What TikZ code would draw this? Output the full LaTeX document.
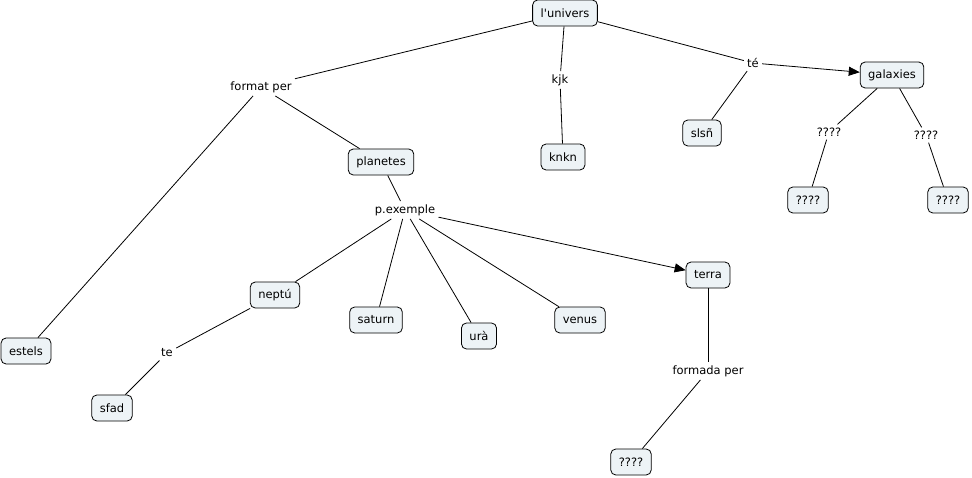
\documentclass[tikz,border=0pt]{standalone}
\usepackage{fontspec}
\setmainfont{DejaVu Sans}
\usepackage{xcolor}
\usetikzlibrary{arrows.meta}
\definecolor{cfill}{HTML}{EDF3F6}

\begin{document}
\begin{tikzpicture}[x=1pt,y=-1pt,
    font=\fontsize{11.5}{13}\selectfont,
    concept/.style={draw, rounded corners=5pt, fill=cfill, inner xsep=8pt,
        minimum height=26pt},
    linkw/.style={inner sep=3pt},
    every path/.style={line width=0.8pt},
    arr/.style={-{Triangle[length=11pt,width=9pt]}}]
\useasboundingbox (0,0) rectangle (972,477);

\node[concept] (univers) at (565,13) {l\textquotesingle univers};
\node[concept] (galaxies) at (892,75) {galaxies};
\node[concept] (slsn) at (702,133) {slsñ};
\node[concept] (knkn) at (563,157) {knkn};
\node[concept] (planetes) at (381,162) {planetes};
\node[concept] (galA) at (808,200) {????};
\node[concept] (galB) at (948,200) {????};
\node[concept] (terra) at (708,275) {terra};
\node[concept] (neptu) at (275,295) {neptú};
\node[concept] (saturn) at (376,320) {saturn};
\node[concept] (venus) at (580,320) {venus};
\node[concept] (ura) at (479,336) {urà};
\node[concept] (estels) at (26,351) {estels};
\node[concept] (sfad) at (112,408) {sfad};
\node[concept] (terraA) at (631,462) {????};

\node[linkw] (formatper) at (261,87) {format per};
\node[linkw] (kjk) at (560,80) {kjk};
\node[linkw] (te) at (753,63) {té};
\node[linkw] (qA) at (829,132) {????};
\node[linkw] (qB) at (926,135) {????};
\node[linkw] (pexemple) at (405,210) {p.exemple};
\node[linkw] (teN) at (167,353) {te};
\node[linkw] (formada) at (708,371) {formada per};

\draw (univers) -- (formatper);
\draw (formatper) -- (planetes);
\draw (formatper) -- (estels);
\draw (univers) -- (kjk);
\draw (kjk) -- (knkn);
\draw (univers) -- (te);
\draw[arr] (te) -- (galaxies);
\draw (te) -- (slsn);
\draw (galaxies) -- (qA);
\draw (qA) -- (galA);
\draw (galaxies) -- (qB);
\draw (qB) -- (galB);
\draw (planetes) -- (pexemple);
\draw (pexemple) -- (neptu);
\draw (pexemple) -- (saturn);
\draw (pexemple) -- (ura);
\draw (pexemple) -- (venus);
\draw[arr] (pexemple) -- (terra);
\draw (neptu) -- (teN);
\draw (teN) -- (sfad);
\draw (terra) -- (formada);
\draw (formada) -- (terraA);
\end{tikzpicture}
\end{document}
